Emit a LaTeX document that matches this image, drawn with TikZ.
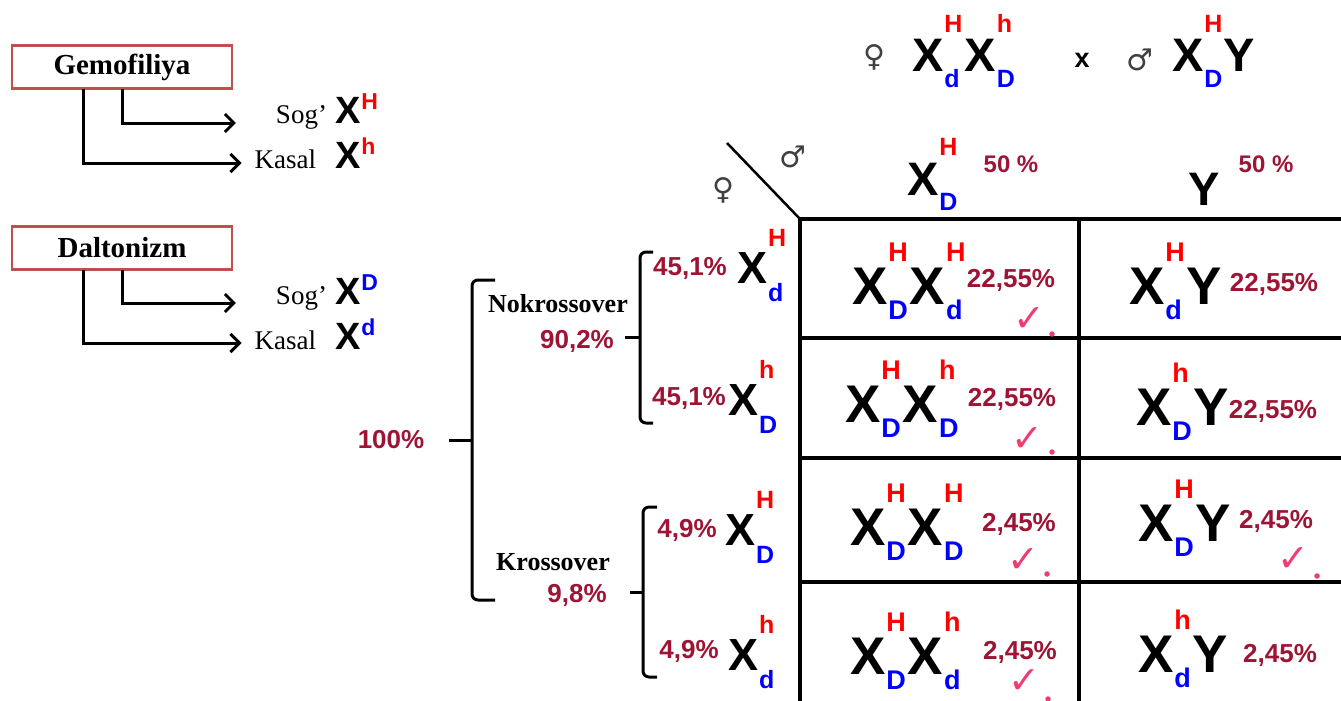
\documentclass[tikz,border=0pt]{standalone}
\usepackage{fontspec}
\setmainfont{Liberation Serif}
\newfontfamily\gensf{Liberation Sans}
\newfontfamily\symsf{DejaVu Sans}
\usetikzlibrary{arrows.meta}

\definecolor{hred}{RGB}{255,0,0}
\definecolor{dblue}{RGB}{0,0,255}
\definecolor{pctred}{RGB}{158,20,52}
\definecolor{boxred}{RGB}{192,80,77}
\definecolor{tickpink}{RGB}{240,60,110}
\definecolor{symgray}{RGB}{64,64,64}

% X with an H/h allele on top and a D/d allele below
\newsavebox\supbox
\newsavebox\subbox
\def\alsz{}\def\suprise{0.8em}\def\subdrop{0.3em}
\newcommand{\allele}[2]{%
  \sbox\supbox{\alsz\color{hred}#1}%
  \sbox\subbox{\alsz\color{dblue}#2}%
  \dimen0=\wd\supbox \ifdim\wd\subbox>\dimen0 \dimen0=\wd\subbox\fi
  \hbox to\dimen0{\rlap{\raisebox{\suprise}{\usebox\supbox}}\raisebox{-\subdrop}{\usebox\subbox}\hss}}
\newcommand{\xg}[2]{X\kern1pt\allele{#1}{#2}}
\newcommand{\xl}[2]{X\kern1pt\raisebox{\suprise}{\alsz\color{#1}#2}}

\begin{document}
\begin{tikzpicture}[
		x=1pt, y=-1pt,
		every node/.style = {inner sep=0pt, outer sep=0pt},
		disease/.style = {draw=boxred, line width=2.5pt, minimum width=220pt,
			minimum height=43pt, font=\bfseries\fontsize{29}{29}\selectfont},
		word/.style = {font=\fontsize{27}{27}\selectfont},
		legx/.style = {font={\gensf\bfseries\fontsize{38}{38}\selectfont
			\def\alsz{\fontsize{23}{23}\selectfont}\def\suprise{0.36em}}},
		hdgeno/.style = {anchor=base west, font={\gensf\bfseries\fontsize{47}{47}\selectfont
			\def\alsz{\fontsize{25}{25}\selectfont}\def\suprise{0.83em}\def\subdrop{0.34em}}},
		brgeno/.style = {anchor=base west, font={\gensf\bfseries\fontsize{45}{45}\selectfont
			\def\alsz{\fontsize{25}{25}\selectfont}\def\suprise{0.82em}\def\subdrop{0.4em}}},
		geno/.style = {anchor=base west, font={\gensf\bfseries\fontsize{53}{53}\selectfont
			\def\alsz{\fontsize{27}{27}\selectfont}\def\suprise{0.8em}\def\subdrop{0.3em}}},
		pct/.style = {anchor=base, text=pctred, font=\gensf\bfseries\fontsize{26}{26}\selectfont},
		branch/.style = {anchor=base, font=\bfseries\fontsize{26}{26}\selectfont},
		sym/.style = {text=symgray, font=\symsf\fontsize{30}{30}\selectfont},
		tick/.style = {text=tickpink, font=\symsf\fontsize{38}{38}\selectfont},
		dotm/.style = {circle, fill=tickpink, minimum size=5.5pt},
		arr/.style = {line width=3pt, -{Straight Barb[length=9pt,width=18pt]}},
		grid/.style = {line width=3.2pt},
		brace/.style = {line width=3pt, rounded corners=6pt}
		]
		\useasboundingbox (0,0) rectangle (1341,701);

		% legend
		\node[disease] (gem) at (122,67) {Gemofiliya};
		\node[word, anchor=base east] (gsog) at (327,123) {Sog’};
		\node[legx, anchor=base west] (gsogx) at (335,123) {\xl{hred}{H}};
		\node[word, anchor=base east] (gkas) at (316,168) {Kasal};
		\node[legx, anchor=base west] (gkasx) at (335,168) {\xl{hred}{h}};
		\draw[arr] (gem.south) |- ([xshift=-40pt]gsog.base west);
		\draw[arr] ([xshift=-39pt]gem.south) |- ([xshift=-13pt,yshift=5pt]gkas.base west);

		\node[disease] (dal) at (122,248) {Daltonizm};
		\node[word, anchor=base east] (dsog) at (327,304) {Sog’};
		\node[legx, anchor=base west] (dsogx) at (335,304) {\xl{dblue}{D}};
		\node[word, anchor=base east] (dkas) at (316,349) {Kasal};
		\node[legx, anchor=base west] (dkasx) at (335,349) {\xl{dblue}{d}};
		\draw[arr] (dal.south) |- ([xshift=-40pt,yshift=1pt]dsog.base west);
		\draw[arr] ([xshift=-39pt]dal.south) |- ([xshift=-13pt,yshift=6pt]dkas.base west);

		% parents
		\node[sym] (fsym) at (874,57) {♀};
		\node[hdgeno] (mother) at (912,72) {\xg{H}{d}\kern2pt\xg{h}{D}};
		\node[text=black, font=\gensf\bfseries\fontsize{27}{27}\selectfont] (cross) at (1082,60) {x};
		\node[sym] (msym) at (1140,60) {♂};
		\node[hdgeno] (father) at (1172,72) {\xg{H}{D}\kern1pt Y};

		% gametes along the top
		\draw[line width=2.5pt] (727,143) -- (800,219);
		\node[sym] (gmsym) at (793,157) {♂};
		\node[sym] (gfsym) at (723,190) {♀};
		\node[hdgeno] (mg1) at (907,195) {\xg{H}{D}};
		\node[pct, font=\gensf\bfseries\fontsize{24}{24}\selectfont] (mp1) at (1011,172) {50 \%};
		\node[hdgeno] (mg2) at (1188,205) {Y};
		\node[pct, font=\gensf\bfseries\fontsize{24}{24}\selectfont] (mp2) at (1266,172) {50 \%};

		% gametes of the mother
		\node[pct] (all) at (391,448) {100\%};
		\draw[brace] (495,280) -- (472,280) -- (472,600) -- (495,600);
		\draw[brace] (449,440) -- (472,440);
		\node[branch] (nokr) at (558,312) {Nokrossover};
		\node[pct] (nokrp) at (577,348) {90,2\%};
		\node[branch] (kr) at (553,570) {Krossover};
		\node[pct] (krp) at (577,602) {9,8\%};

		\draw[brace] (653,252) -- (640,252) -- (640,423) -- (653,423);
		\draw[brace] (625,337) -- (640,337);
		\node[pct] (fp1) at (690,275) {45,1\%};
		\node[brgeno] (fg1) at (737,283) {\xg{H}{d}};
		\node[pct] (fp2) at (689,405) {45,1\%};
		\node[brgeno] (fg2) at (728,415) {\xg{h}{D}};

		\draw[brace] (657,507) -- (643,507) -- (643,677) -- (657,677);
		\draw[brace] (630,592) -- (643,592);
		\node[pct] (fp3) at (687,537) {4,9\%};
		\node[brgeno] (fg3) at (725,545) {\xg{H}{D}};
		\node[pct] (fp4) at (689,658) {4,9\%};
		\node[brgeno] (fg4) at (728,670) {\xg{h}{d}};

		% punnett grid
		\draw[grid] (800,219) -- (1341,219);
		\draw[grid] (800,338) -- (1341,338);
		\draw[grid] (800,458) -- (1341,458);
		\draw[grid] (800,582) -- (1341,582);
		\draw[grid] (800,219) -- (800,701);
		\draw[grid] (1079,219) -- (1079,701);

		\node[geno] (c11) at (852,304) {\xg{H}{D}\kern2pt\xg{H}{d}};
		\node[pct] (p11) at (1011,287) {22,55\%};
		\node[tick] (t11) at (1029,320) {✓};
		\node[dotm] (d11) at (1052,334) {};
		\node[geno] (c12) at (1129,304) {\xg{H}{d}\kern2pt Y};
		\node[pct] (p12) at (1274,291) {22,55\%};

		\node[geno] (c21) at (845,422) {\xg{H}{D}\kern2pt\xg{h}{D}};
		\node[pct] (p21) at (1012,406) {22,55\%};
		\node[tick] (t21) at (1027,440) {✓};
		\node[dotm] (d21) at (1052,452) {};
		\node[geno] (c22) at (1136,425) {\xg{h}{D}\kern2pt Y};
		\node[pct] (p22) at (1273,418) {22,55\%};

		\node[geno] (c31) at (850,545) {\xg{H}{D}\kern2pt\xg{H}{D}};
		\node[pct] (p31) at (1019,531) {2,45\%};
		\node[tick] (t31) at (1023,561) {✓};
		\node[dotm] (d31) at (1047,574) {};
		\node[geno] (c32) at (1138,541) {\xg{H}{D}\kern2pt Y};
		\node[pct] (p32) at (1276,528) {2,45\%};
		\node[tick] (t32) at (1293,560) {✓};
		\node[dotm] (d32) at (1317,576) {};

		\node[geno] (c41) at (850,674) {\xg{H}{D}\kern2pt\xg{h}{d}};
		\node[pct] (p41) at (1020,659) {2,45\%};
		\node[tick] (t41) at (1024,682) {✓};
		\node[dotm] (d41) at (1048,699) {};
		\node[geno] (c42) at (1138,672) {\xg{h}{d}\kern2pt Y};
		\node[pct] (p42) at (1280,662) {2,45\%};
	\end{tikzpicture}
\end{document}
